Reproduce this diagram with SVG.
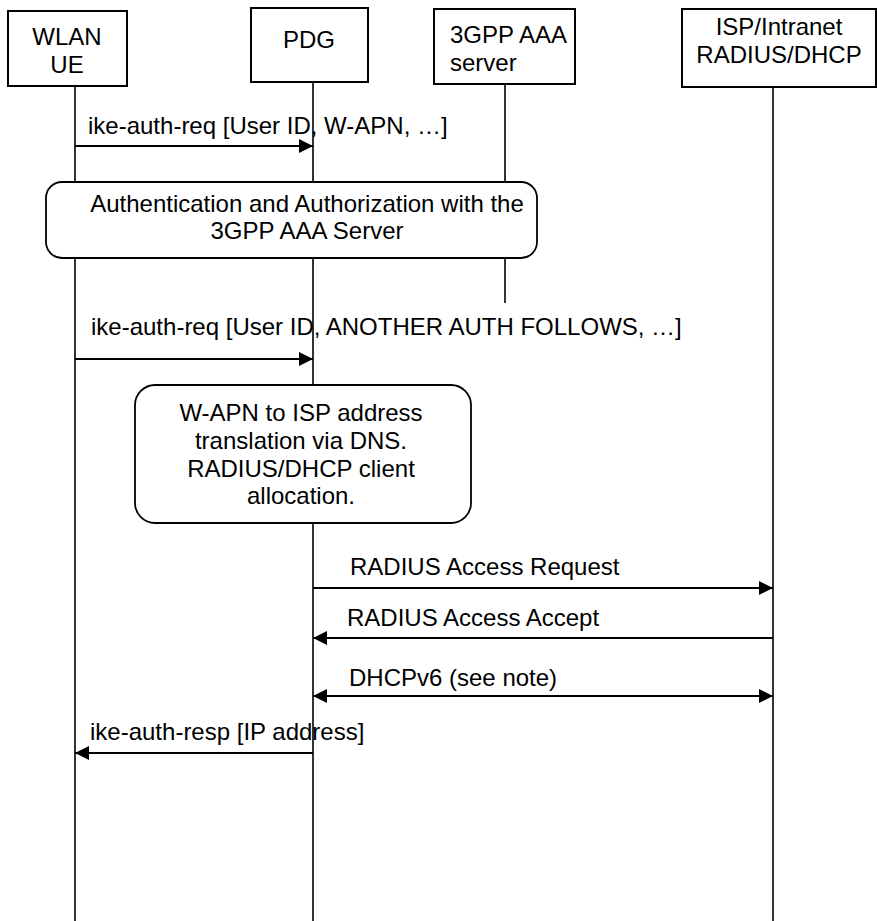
<svg xmlns="http://www.w3.org/2000/svg" width="877" height="921" viewBox="0 0 877 921">
<defs>
<style>
text{font-family:"Liberation Sans",Arial,sans-serif;font-size:24px;fill:#000}
.c{text-anchor:middle}
.box{fill:#fff;stroke:#000;stroke-width:2}
.life{stroke:#000;stroke-width:1.6;fill:none}
.msg{stroke:#000;stroke-width:2.2;fill:none}
.note{fill:#fff;stroke:#000;stroke-width:1.8}
</style>
<marker id="ah" viewBox="0 0 14 14" refX="14" refY="7" markerWidth="14" markerHeight="14" markerUnits="userSpaceOnUse" orient="auto-start-reverse">
<path d="M0,0 L14,7 L0,14 Z" fill="#000"/>
</marker>
</defs>
<rect width="877" height="921" fill="#fff"/>
<g id="lifelines">
<line class="life" x1="75" y1="86" x2="75" y2="921"/>
<line class="life" x1="313" y1="82" x2="313" y2="921"/>
<line class="life" x1="505" y1="84" x2="505" y2="303"/>
<line class="life" x1="773" y1="87" x2="773" y2="921"/>
</g>
<g id="wlan-ue">
<rect class="box" x="8" y="11" width="119" height="75"/>
<text class="c" x="67" y="45">WLAN</text>
<text class="c" x="67" y="73">UE</text>
</g>
<g id="pdg">
<rect class="box" x="251" y="8" width="117" height="74"/>
<text class="c" x="309" y="48">PDG</text>
</g>
<g id="aaa">
<rect class="box" x="434" y="9" width="141" height="75"/>
<text x="450" y="43">3GPP AAA</text>
<text x="450" y="71">server</text>
</g>
<g id="isp">
<rect class="box" x="682" y="9" width="194" height="78"/>
<text class="c" x="779" y="35">ISP/Intranet</text>
<text class="c" x="779" y="63">RADIUS/DHCP</text>
</g>
<g id="auth-note">
<rect class="note" x="46" y="182" width="491" height="76" rx="16" ry="16"/>
<text class="c" x="307" y="212">Authentication and Authorization with the</text>
<text class="c" x="307" y="239">3GPP AAA Server</text>
</g>
<g id="dns-note">
<rect class="note" x="135" y="385" width="336" height="138" rx="20" ry="20"/>
<text class="c" x="301" y="421">W-APN to ISP address</text>
<text class="c" x="301" y="449">translation via DNS.</text>
<text class="c" x="301" y="477">RADIUS/DHCP client</text>
<text class="c" x="301" y="504">allocation.</text>
</g>
<g id="connectors">
<line class="msg" x1="75" y1="146" x2="313" y2="146" marker-end="url(#ah)"/>
<line class="msg" x1="75" y1="359" x2="313" y2="359" marker-end="url(#ah)"/>
<line class="msg" x1="313" y1="588" x2="773" y2="588" marker-end="url(#ah)"/>
<line class="msg" x1="773" y1="638" x2="313" y2="638" marker-end="url(#ah)"/>
<line class="msg" x1="313" y1="696" x2="773" y2="696" marker-start="url(#ah)" marker-end="url(#ah)"/>
<line class="msg" x1="313" y1="753" x2="75" y2="753" marker-end="url(#ah)"/>
</g>
<g id="labels">
<text x="88" y="134">ike-auth-req [User ID, W-APN, …]</text>
<text x="91" y="335">ike-auth-req [User ID, ANOTHER AUTH FOLLOWS, …]</text>
<text x="350" y="575">RADIUS Access Request</text>
<text x="347" y="626">RADIUS Access Accept</text>
<text x="349" y="686">DHCPv6 (see note)</text>
<text x="90" y="740">ike-auth-resp [IP address]</text>
</g>
</svg>
